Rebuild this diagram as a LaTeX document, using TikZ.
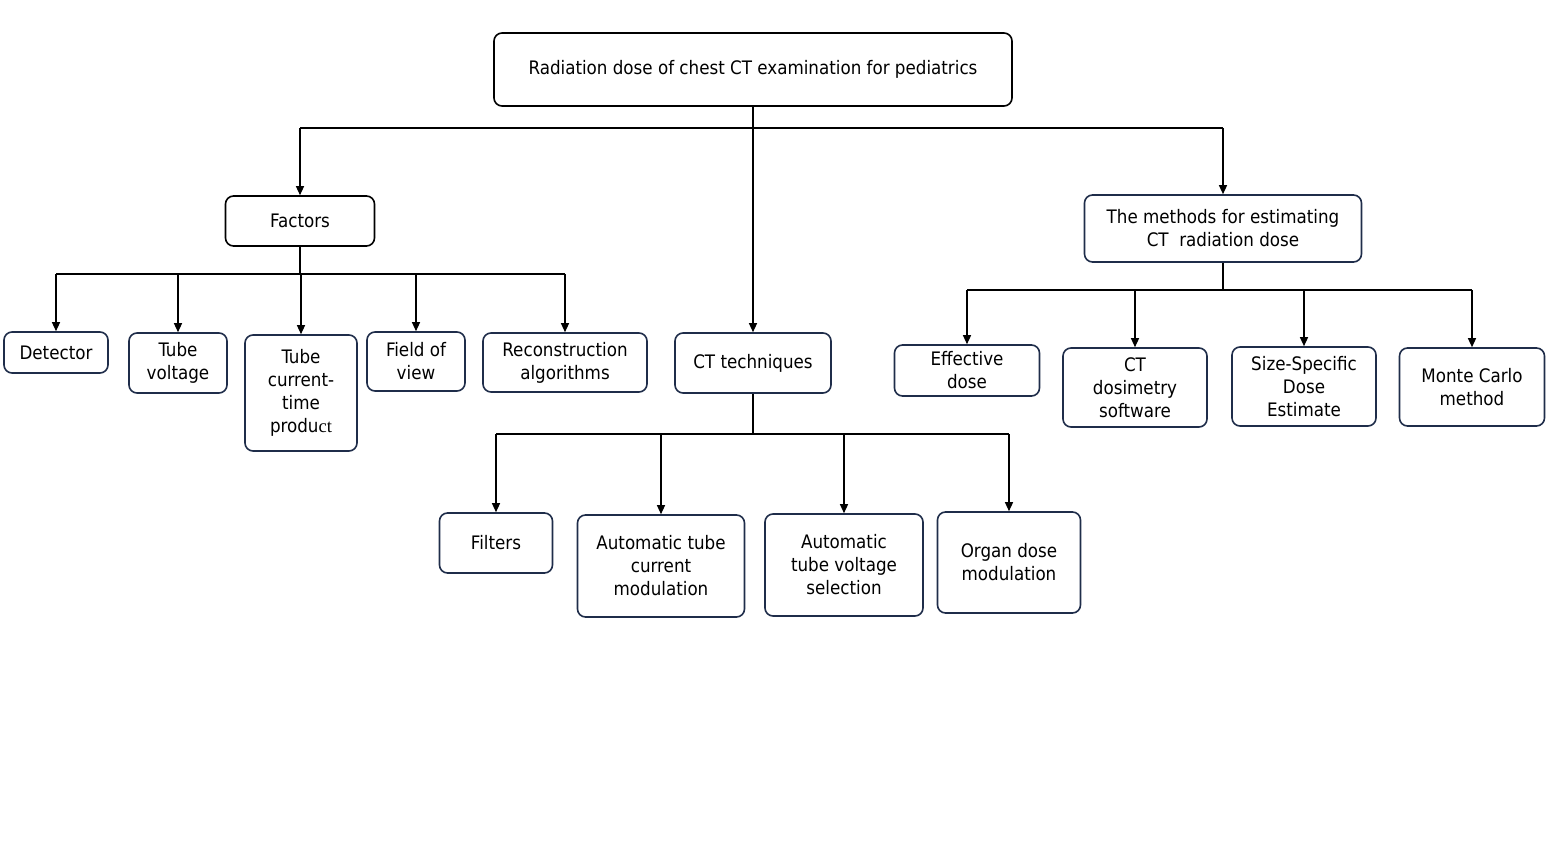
\documentclass[tikz,border=0pt]{standalone}
\usepackage{fontspec}
\setmainfont{DejaVu Sans Condensed}
\newfontfamily\serifct{Liberation Serif}
\usetikzlibrary{arrows.meta}
\definecolor{navy}{HTML}{1F2D4A}
\tikzset{
  box/.style={draw=navy, line width=1.6pt, rounded corners=8pt, align=center,
    inner sep=0pt, font=\fontsize{18.6}{23}\selectfont, fill=white},
  blackbox/.style={box, draw=black},
  link/.style={line width=1.3pt, black},
  arr/.style={link, -{Triangle[length=9pt,width=8pt]}},
}
\begin{document}
\begin{tikzpicture}[x=1pt, y=-1pt]
\useasboundingbox (0,0) rectangle (1550,850);
% nodes
\node[blackbox, minimum width=518pt, minimum height=73pt] (root) at (753,69.5) {Radiation dose of chest CT examination for pediatrics};
\node[blackbox, minimum width=149pt, minimum height=50pt] (fac) at (300,221) {Factors};
\node[box, minimum width=277pt, minimum height=67pt] (meth) at (1223,228.5) {The methods for estimating\\CT\ \ radiation dose};
\node[box, minimum width=156pt, minimum height=60pt] (ctt) at (753,363) {CT techniques};
% factors children
\node[box, minimum width=104pt, minimum height=41pt] (det) at (56,352.5) {Detector};
\node[box, minimum width=98pt, minimum height=60pt] (tv) at (178,363) {Tube\\voltage};
\node[box, minimum width=112pt, minimum height=116pt] (tc) at (301,393) {Tube\\current-\\time\\produ{\serifct ct}};
\node[box, minimum width=98pt, minimum height=59pt] (fov) at (416,361.5) {Field of\\view};
\node[box, minimum width=164pt, minimum height=59pt] (rec) at (565,362.5) {Reconstruction\\algorithms};
% CT techniques children
\node[box, minimum width=113pt, minimum height=60pt] (fil) at (496,543) {Filters};
\node[box, minimum width=167pt, minimum height=102pt] (atcm) at (661,566) {Automatic tube\\current\\modulation};
\node[box, minimum width=158pt, minimum height=102pt] (atvs) at (844,565) {Automatic\\tube voltage\\selection};
\node[box, minimum width=143pt, minimum height=101pt] (odm) at (1009,562.5) {Organ dose\\modulation};
% methods children
\node[box, minimum width=145pt, minimum height=51pt] (eff) at (967,370.5) {Effective\\dose};
\node[box, minimum width=144pt, minimum height=79pt] (dos) at (1135,387.5) {CT\\dosimetry\\software};
\node[box, minimum width=144pt, minimum height=79pt] (ssde) at (1304,386.5) {Size-Specific\\Dose\\Estimate};
\node[box, minimum width=145pt, minimum height=78pt] (mc) at (1472,387) {Monte Carlo\\method};
% bus coordinates
\coordinate (tbus) at (753,128);
\coordinate (fbus) at (300,274);
\coordinate (cbus) at (753,434);
\coordinate (mbus) at (1223,290);
% top level
\draw[link] (root.south) -- (tbus);
\draw[link] (tbus -| fac.north) -- (tbus -| meth.north);
\draw[arr] (tbus -| fac.north) -- (fac.north);
\draw[arr] (tbus -| meth.north) -- (meth.north);
\draw[arr] (tbus) -- (ctt.north);
% factors
\draw[link] (fac.south) -- (fbus);
\draw[link] (fbus -| det.north) -- (fbus -| rec.north);
\foreach \n in {det,tv,tc,fov,rec} \draw[arr] (fbus -| \n.north) -- (\n.north);
% CT techniques
\draw[link] (ctt.south) -- (cbus);
\draw[link] (cbus -| fil.north) -- (cbus -| odm.north);
\foreach \n in {fil,atcm,atvs,odm} \draw[arr] (cbus -| \n.north) -- (\n.north);
% methods
\draw[link] (meth.south) -- (mbus);
\draw[link] (mbus -| eff.north) -- (mbus -| mc.north);
\foreach \n in {eff,dos,ssde,mc} \draw[arr] (mbus -| \n.north) -- (\n.north);
\end{tikzpicture}
\end{document}
